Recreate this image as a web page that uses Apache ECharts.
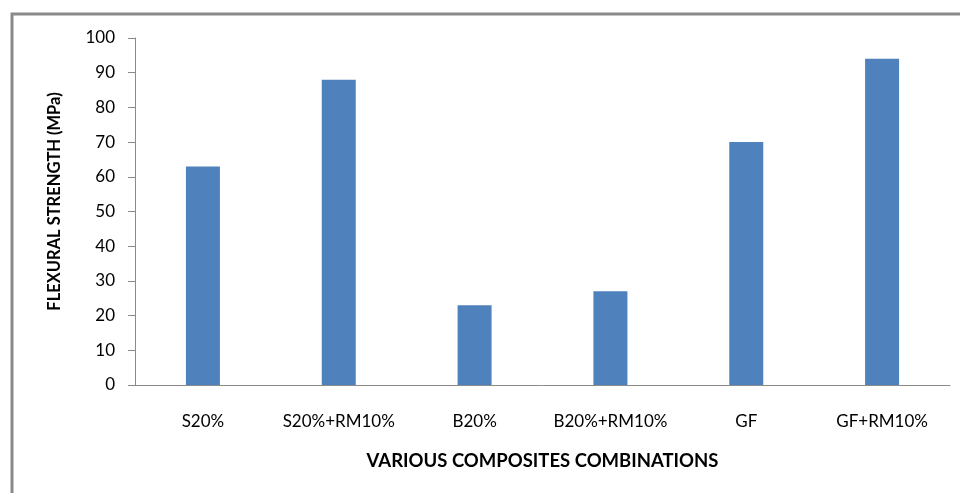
<!DOCTYPE html>
<html>
<head>
<meta charset="utf-8">
<script src="https://cdn.jsdelivr.net/npm/echarts@6/dist/echarts.min.js"></script>
<style>
  html, body { margin: 0; padding: 0; background: #fff; }
  #chart { width: 960px; height: 493px; }
</style>
</head>
<body>
<div id="chart"></div>
<script>
// Flexural strength by composite combination
const categories = ['S20%', 'S20%+RM10%', 'B20%', 'B20%+RM10%', 'GF', 'GF+RM10%'];
const strength = [63, 88, 23, 27, 70, 94];
const yTicks = { min: 0, max: 100, interval: 10 };

const chart = echarts.init(document.getElementById('chart'), null, { renderer: 'canvas' });
const font = 'Lato, "Open Sans", sans-serif';

chart.setOption({
  animation: false,
  graphic: [{
    type: 'polyline',
    shape: { points: [[12, 493], [12, 14], [960, 14]] },
    style: { stroke: '#8a8a8a', lineWidth: 3, fill: null }
  }],
  grid: { left: 135, right: 10, top: 38, bottom: 108 },
  xAxis: {
    type: 'category',
    data: categories,
    name: 'VARIOUS COMPOSITES COMBINATIONS',
    nameLocation: 'middle',
    nameGap: 67,
    nameTextStyle: { fontFamily: font, fontSize: 18.5, fontWeight: 'bold', color: '#000' },
    axisLine: { lineStyle: { color: '#8a8a8a', width: 1 } },
    axisTick: { show: false },
    axisLabel: { fontFamily: font, fontSize: 17, color: '#000', margin: 28, interval: 0 }
  },
  yAxis: {
    type: 'value',
    min: yTicks.min,
    max: yTicks.max,
    interval: yTicks.interval,
    name: 'FLEXURAL STRENGTH (MPa)',
    nameLocation: 'middle',
    nameGap: 72,
    nameTextStyle: { fontFamily: font, fontSize: 16.5, fontWeight: 'bold', color: '#000', padding: [0, 0, 0, 20] },
    axisLine: { show: true, lineStyle: { color: '#8a8a8a', width: 1 } },
    axisTick: { show: true, length: 7, lineStyle: { color: '#8a8a8a' } },
    axisLabel: { fontFamily: font, fontSize: 17, color: '#000', margin: 20 },
    splitLine: { show: false }
  },
  series: [{
    type: 'bar',
    data: strength,
    barWidth: 34,
    itemStyle: { color: '#4f81bd' }
  }]
});
</script>
</body>
</html>
